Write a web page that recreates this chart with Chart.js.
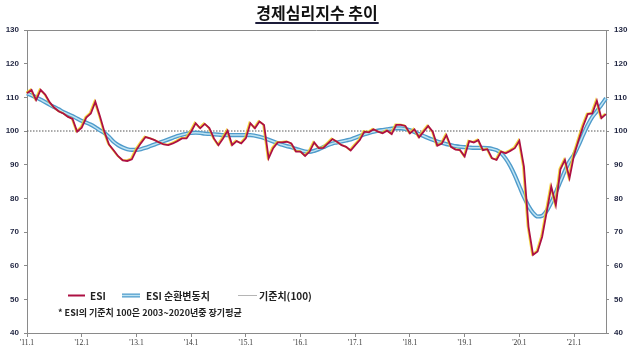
<!DOCTYPE html>
<html>
<head>
<meta charset="utf-8">
<script src="https://cdn.jsdelivr.net/npm/chart.js@4.4.1/dist/chart.umd.min.js"></script>
<style>
  html, body { margin: 0; padding: 0; background: #ffffff; }
  #wrap { width: 635px; height: 358px; position: relative; }
</style>
</head>
<body>
<div id="wrap"><canvas id="c" width="635" height="358"></canvas></div>
<script>
// ---- data (monthly, 2011.1 ~ 2021.8) ----
const yearTickLabels = ["'11.1", "'12.1", "'13.1", "'14.1", "'15.1", "'16.1", "'17.1", "'18.1", "'19.1", "'20.1", "'21.1"];

const esi = [
  111.2, 112.2, 109.2, 112.2, 110.8, 108.5, 106.9, 105.8, 105.2, 104.2, 103.6, 99.8,
  101.0, 104.0, 105.2, 108.7, 104.4, 99.7, 96.0, 94.3, 92.5, 91.3, 91.1, 91.6,
  94.4, 96.4, 98.2, 97.8, 97.3, 96.6, 96.0, 95.8, 96.3, 97.0, 97.8, 97.8,
  99.8, 102.3, 100.8, 102.1, 100.9, 97.8, 95.8, 97.8, 100.1, 95.8, 97.0, 96.3,
  97.8, 102.3, 100.8, 102.8, 101.8, 91.9, 94.9, 96.6, 96.6, 96.8, 96.3, 93.9,
  93.9, 92.6, 93.9, 96.6, 94.9, 95.0, 96.3, 97.6, 96.8, 95.8, 95.3, 94.2,
  95.8, 97.3, 99.8, 99.6, 100.5, 99.8, 99.3, 100.1, 99.1, 101.8, 101.8, 101.5,
  99.3, 100.5, 98.1, 99.8, 101.5, 99.8, 95.6, 96.3, 98.8, 95.3, 94.5, 94.3,
  92.4, 97.0, 96.6, 97.3, 94.3, 94.6, 91.9, 91.4, 93.9, 93.4, 94.1, 94.9,
  97.1, 89.4, 71.6, 63.2, 64.2, 68.6, 76.0, 83.5, 78.0, 88.6, 91.4, 86.0,
  92.9, 97.3, 101.5, 105.0, 105.2, 109.0, 103.8, 105.0
];

const esiCycle = [
  111.2, 110.6, 110.0, 109.3, 108.6, 107.8, 107.1, 106.4, 105.6, 105.0, 104.4, 103.7,
  103.0, 102.5, 101.9, 101.1, 100.2, 99.4, 98.2, 96.8, 95.8, 95.1, 94.6, 94.4,
  94.4, 94.6, 95.0, 95.5, 96.0, 96.5, 97.0, 97.5, 98.0, 98.5, 98.9, 99.2,
  99.4, 99.5, 99.4, 99.2, 99.1, 99.0, 98.9, 98.8, 98.8, 98.8, 98.8, 98.8,
  98.8, 98.8, 98.6, 98.3, 97.9, 97.4, 96.9, 96.4, 95.9, 95.5, 95.2, 94.7,
  94.3, 93.9, 93.8, 94.1, 94.6, 95.2, 95.8, 96.3, 96.6, 96.9, 97.2, 97.5,
  98.0, 98.5, 99.0, 99.4, 99.8, 100.1, 100.3, 100.5, 100.7, 100.8, 100.8, 100.6,
  100.2, 99.7, 99.1, 98.5, 97.9, 97.4, 96.9, 96.5, 96.1, 95.8, 95.5, 95.3,
  95.2, 95.1, 95.0, 95.0, 95.0, 94.9, 94.7, 94.3, 93.4, 91.8, 89.6, 86.8,
  83.6, 80.4, 77.7, 75.7, 74.6, 74.8, 76.3, 78.8, 81.8, 85.0, 88.2, 91.0,
  93.0, 95.8, 98.9, 101.8, 104.2, 105.9, 107.8, 109.7
];

const referenceLevel = 100;
const yMin = 40, yMax = 130, yStep = 10;

const titleText = '경제심리지수 추이';
const seriesNames = ['ESI', 'ESI 순환변동치', '기준치(100)'];
const noteText = '* ESI의 기준치 100은 2003~2020년중 장기평균';

// categories: one per month, label only at January
const categories = esi.map((_, i) => (i % 12 === 0 ? yearTickLabels[i / 12] : ''));
const referenceSeries = categories.map(() => referenceLevel);

// ---- styles ----
const RED = '#ad1043';
const BLUE_OUT = '#4f9bcb';
const BLUE_IN = '#bfe4f3';
const AXIS = '#8a8a8a';

const decor = {
  id: 'decor',
  beforeDatasetsDraw(chart) {
    const { ctx, chartArea: a } = chart;
    ctx.save();
    ctx.strokeStyle = AXIS;
    ctx.lineWidth = 1;
    ctx.beginPath();
    ctx.moveTo(a.left, a.top + 0.5);
    ctx.lineTo(a.right, a.top + 0.5);
    ctx.stroke();
    ctx.restore();
  },
  beforeDatasetDraw(chart, args) {
    if (args.index === 0) {
      const ctx = chart.ctx;
      ctx.save();
      ctx.shadowColor = 'rgba(240,205,30,0.85)';
      ctx.shadowOffsetX = -1;
      ctx.shadowOffsetY = -0.6;
      ctx.shadowBlur = 0;
    }
  },
  afterDatasetDraw(chart, args) {
    if (args.index === 0) chart.ctx.restore();
  },
  afterDraw(chart) {
    const { ctx, chartArea: a } = chart;
    ctx.save();
    // title with underline
    ctx.font = 'bold 16px "Noto Sans CJK KR", sans-serif';
    ctx.fillStyle = '#111111';
    ctx.textAlign = 'center';
    ctx.textBaseline = 'middle';
    const cx = 317;
    ctx.fillText(titleText, cx, 13);
    const w = ctx.measureText(titleText).width;
    ctx.fillStyle = '#1c1c3a';
    ctx.fillRect(cx - w / 2 - 1, 22, w + 2, 2);

    // legend
    const ly = 295.5;
    const lx = a.left;
    ctx.strokeStyle = RED; ctx.lineWidth = 2;
    ctx.beginPath(); ctx.moveTo(lx + 41, ly); ctx.lineTo(lx + 58, ly); ctx.stroke();
    ctx.strokeStyle = BLUE_OUT; ctx.lineWidth = 4;
    ctx.beginPath(); ctx.moveTo(lx + 95, ly); ctx.lineTo(lx + 113, ly); ctx.stroke();
    ctx.strokeStyle = BLUE_IN; ctx.lineWidth = 1.5;
    ctx.beginPath(); ctx.moveTo(lx + 95, ly); ctx.lineTo(lx + 113, ly); ctx.stroke();
    ctx.strokeStyle = '#b5b5b5'; ctx.lineWidth = 1;
    ctx.beginPath(); ctx.moveTo(lx + 211, ly); ctx.lineTo(lx + 230, ly); ctx.stroke();

    ctx.fillStyle = '#222222';
    ctx.textAlign = 'left';
    ctx.textBaseline = 'middle';
    ctx.font = 'bold 10px "Noto Sans CJK KR", sans-serif';
    ctx.fillText(seriesNames[0], lx + 63, ly + 0.5);
    ctx.fillText(seriesNames[1], lx + 119, ly + 0.5);
    ctx.fillText(seriesNames[2], lx + 232, ly + 0.5);
    ctx.font = 'bold 9px "Noto Sans CJK KR", sans-serif';
    ctx.fillText(noteText, lx + 31, 313);
    ctx.restore();
  }
};

const yCommon = {
  min: yMin, max: yMax,
  ticks: {
    stepSize: yStep,
    color: '#1f2440',
    font: { family: '"Liberation Sans", Arial, sans-serif', size: 8, weight: 'bold' },
    padding: 5
  },
  grid: { display: true, drawOnChartArea: false, drawTicks: true, tickLength: 3, color: AXIS },
  border: { display: true, color: AXIS }
};

new Chart(document.getElementById('c'), {
  type: 'line',
  data: {
    labels: categories,
    datasets: [
      {
        label: seriesNames[0], data: esi, borderColor: RED, borderWidth: 1.8,
        pointRadius: 0, tension: 0, order: 0
      },
      {
        label: seriesNames[1] + ' inner', data: esiCycle, borderColor: BLUE_IN, borderWidth: 1.5,
        pointRadius: 0, tension: 0.4, cubicInterpolationMode: 'monotone', order: 1
      },
      {
        label: seriesNames[1], data: esiCycle, borderColor: BLUE_OUT, borderWidth: 4.2,
        pointRadius: 0, tension: 0.4, cubicInterpolationMode: 'monotone', order: 2
      },
      {
        label: seriesNames[2], data: referenceSeries, borderColor: '#555555', borderWidth: 1,
        borderDash: [1.5, 1.5], pointRadius: 0, tension: 0, order: 3
      }
    ]
  },
  options: {
    responsive: false,
    animation: false,
    devicePixelRatio: 1,
    layout: { padding: { top: 30, left: 0, right: 0, bottom: 0 } },
    plugins: {
      legend: { display: false },
      title: { display: false },
      tooltip: { enabled: false }
    },
    scales: {
      x: {
        offset: false,
        ticks: {
          autoSkip: false, maxRotation: 0, minRotation: 0,
          color: '#333333',
          font: { family: '"Liberation Serif", serif', size: 7.5 },
          padding: 2
        },
        grid: {
          display: true, drawOnChartArea: false, drawTicks: true, tickLength: 4,
          color: (c) => (c.index % 12 === 0 ? AXIS : 'rgba(0,0,0,0)')
        },
        border: { display: true, color: AXIS },
        afterFit: (s) => { s.height = 25; }
      },
      y: Object.assign({}, yCommon, { position: 'left', afterFit: (s) => { s.width = 27; } }),
      y2: Object.assign({}, yCommon, { position: 'right', afterFit: (s) => { s.width = 29; } })
    }
  },
  plugins: [decor]
});
</script>
</body>
</html>
